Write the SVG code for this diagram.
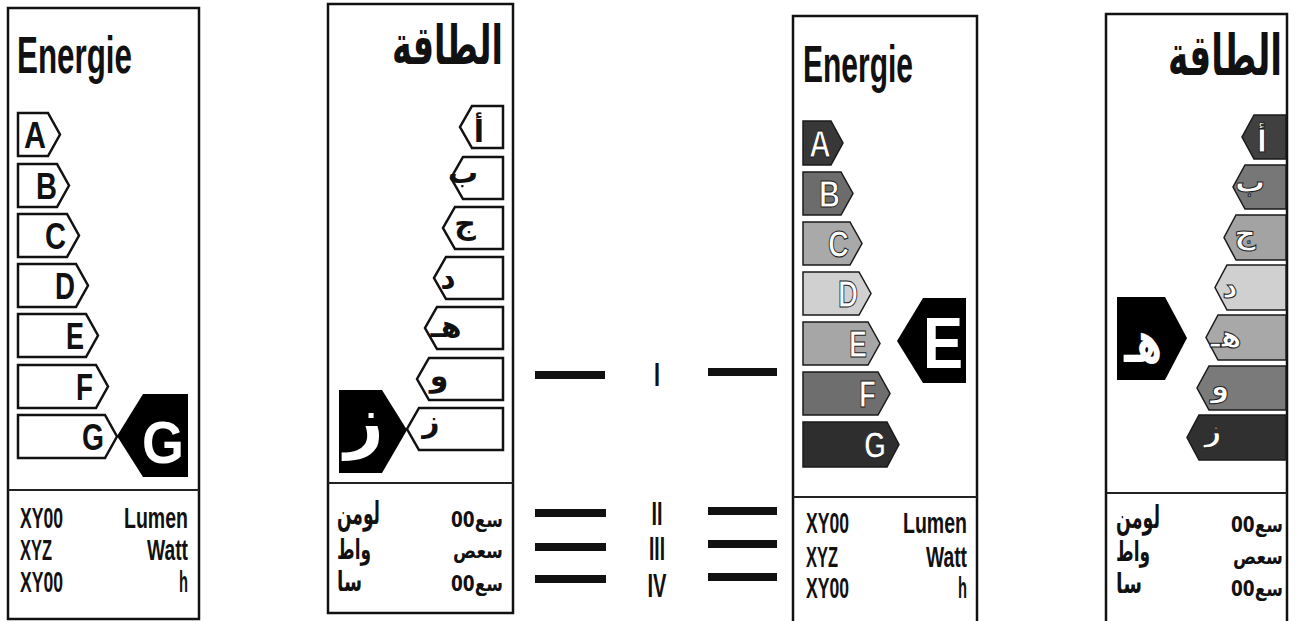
<svg xmlns="http://www.w3.org/2000/svg" width="1298" height="621" viewBox="0 0 1298 621">
<style>
.box{fill:#fff;stroke:#111;stroke-width:2.5}
.div{stroke:#222;stroke-width:2}
.ar{fill:#fff;stroke:#111;stroke-width:2.5;stroke-linejoin:miter}
.arc{stroke:#1a1a1a;stroke-width:1.5}
.ind{fill:#000}
.lat{font-family:"Liberation Sans",Arial,sans-serif;font-weight:bold;fill:#111}
.ara{font-family:"DejaVu Sans",sans-serif;font-weight:bold;fill:#111}
.big{font-size:52px}
.let{font-size:36px}
.wl{fill:#fff;stroke:#222;stroke-width:1}
.wi{fill:#fff}
.bot{font-size:30px}
.bar{fill:#111}
.rom{font-family:"Liberation Sans",Arial,sans-serif;font-weight:bold;fill:#111;font-size:33px}
</style>
<rect width="1298" height="621" fill="#fff"/>

<g id="label1">
<rect class="box" x="8" y="8" width="191" height="611"/>
<line class="div" x1="8" y1="490" x2="199" y2="490"/>
<text class="lat big" x="17" y="73" textLength="115" lengthAdjust="spacingAndGlyphs">Energie</text>
<path class="ar" d="M18,113H48L60,134.5L48,156H18Z"/>
<path class="ar" d="M18,164H57L69,185.5L57,207H18Z"/>
<path class="ar" d="M18,214H67L79,235.5L67,257H18Z"/>
<path class="ar" d="M18,264H76L88,285.5L76,307H18Z"/>
<path class="ar" d="M18,314H86L98,335.5L86,357H18Z"/>
<path class="ar" d="M18,365H96L108,386.5L96,408H18Z"/>
<path class="ar" d="M18,415H105L117,436.5L105,458H18Z"/>
<g class="lat let" text-anchor="end">
<text x="46" y="148" textLength="22" lengthAdjust="spacingAndGlyphs">A</text>
<text x="57" y="199" textLength="21" lengthAdjust="spacingAndGlyphs">B</text>
<text x="66" y="249" textLength="21" lengthAdjust="spacingAndGlyphs">C</text>
<text x="75" y="299" textLength="20" lengthAdjust="spacingAndGlyphs">D</text>
<text x="84" y="349" textLength="18" lengthAdjust="spacingAndGlyphs">E</text>
<text x="93" y="400" textLength="17" lengthAdjust="spacingAndGlyphs">F</text>
<text x="104" y="450" textLength="22" lengthAdjust="spacingAndGlyphs">G</text>
</g>
<path class="ind" d="M117,436L143,394H188V477H143Z"/>
<text class="lat wi" x="142" y="463" font-size="60" textLength="42" lengthAdjust="spacingAndGlyphs">G</text>
<g class="lat bot">
<text x="20" y="528" textLength="43" lengthAdjust="spacingAndGlyphs">XY00</text>
<text x="20" y="560" textLength="32" lengthAdjust="spacingAndGlyphs">XYZ</text>
<text x="20" y="592" textLength="43" lengthAdjust="spacingAndGlyphs">XY00</text>
<text x="124" y="528" textLength="64" lengthAdjust="spacingAndGlyphs">Lumen</text>
<text x="147" y="560" textLength="41" lengthAdjust="spacingAndGlyphs">Watt</text>
<text x="179" y="592" textLength="9" lengthAdjust="spacingAndGlyphs">h</text>
</g>
</g>

<g id="label2">
<rect class="box" x="328" y="4" width="185" height="609"/>
<line class="div" x1="328" y1="483" x2="513" y2="483"/>
<text class="ara" x="392" y="64" font-size="54" textLength="111" lengthAdjust="spacingAndGlyphs">الطاقة</text>
<path class="ar" d="M503,106V148H472L460,127L472,106Z"/>
<path class="ar" d="M503,157V199H463L451,178L463,157Z"/>
<path class="ar" d="M503,207V249H455L443,228L455,207Z"/>
<path class="ar" d="M503,257V299H446L434,278L446,257Z"/>
<path class="ar" d="M503,307V349H437L425,328L437,307Z"/>
<path class="ar" d="M503,358V400H429L417,379L429,358Z"/>
<path class="ar" d="M503,408V450H419L407,429L419,408Z"/>
<g class="ara" font-size="30" text-anchor="middle">
<text x="479" y="142">أ</text>
<text x="463" y="183">ب</text>
<text x="465" y="234">ج</text>
<text x="448" y="288">د</text>
<text x="446" y="337">هـ</text>
<text x="439" y="386">و</text>
<text x="431" y="432">ز</text>
</g>
<path class="ind" d="M339,390H382L407,430L382,473H339Z"/>
<text class="ara wi" x="364" y="444" font-size="68" text-anchor="middle">ز</text>
<g class="ara">
<text x="337" y="524" font-size="31" textLength="43" lengthAdjust="spacingAndGlyphs">لومن</text>
<text x="337" y="559" font-size="28" textLength="34" lengthAdjust="spacingAndGlyphs">واط</text>
<text x="337" y="591" font-size="28" textLength="25" lengthAdjust="spacingAndGlyphs">سا</text>
<text x="503" y="527" font-size="21" text-anchor="end" textLength="52" lengthAdjust="spacingAndGlyphs">سع00</text>
<text x="503" y="558" font-size="21" text-anchor="end" textLength="50" lengthAdjust="spacingAndGlyphs">سعص</text>
<text x="503" y="591" font-size="21" text-anchor="end" textLength="52" lengthAdjust="spacingAndGlyphs">سع00</text>
</g>
</g>

<g id="connectors">
<rect class="bar" x="535" y="371" width="70" height="8"/>
<rect class="bar" x="708" y="368" width="69" height="8"/>
<rect class="bar" x="535" y="509" width="71" height="8"/>
<rect class="bar" x="708" y="507" width="69" height="8"/>
<rect class="bar" x="535" y="543" width="71" height="8"/>
<rect class="bar" x="708" y="540" width="69" height="8"/>
<rect class="bar" x="535" y="575" width="71" height="8"/>
<rect class="bar" x="708" y="573" width="69" height="8"/>
</g>

<g id="numerals" text-anchor="middle">
<text class="rom" x="657" y="386" textLength="6" lengthAdjust="spacingAndGlyphs">I</text>
<text class="rom" x="657" y="525" textLength="11" lengthAdjust="spacingAndGlyphs">II</text>
<text class="rom" x="657" y="560" textLength="16" lengthAdjust="spacingAndGlyphs">III</text>
<text class="rom" x="657" y="597" textLength="19" lengthAdjust="spacingAndGlyphs">IV</text>
</g>

<g id="label3">
<rect class="box" x="793" y="16" width="184" height="620"/>
<line class="div" x1="793" y1="497" x2="977" y2="497"/>
<text class="lat big" x="803" y="82" textLength="110" lengthAdjust="spacingAndGlyphs">Energie</text>
<path class="arc" fill="#383838" d="M803,121H831L843,143L831,165H803Z"/>
<path class="arc" fill="#6c6c6c" d="M803,172H841L853,193.5L841,215H803Z"/>
<path class="arc" fill="#a9a9a9" d="M803,222H850L862,243.5L850,265H803Z"/>
<path class="arc" fill="#d0d0d0" d="M803,272H859L871,293.5L859,315H803Z"/>
<path class="arc" fill="#a6a6a6" d="M803,322H868L880,343.5L868,365H803Z"/>
<path class="arc" fill="#6e6e6e" d="M803,372H878L890,393.5L878,415H803Z"/>
<path class="arc" fill="#2e2e2e" d="M803,422H887L899,444.5L887,467H803Z"/>
<g class="lat let" text-anchor="end">
<text class="wl" x="831" y="157" textLength="22" lengthAdjust="spacingAndGlyphs">A</text>
<text class="wl" x="840" y="207" textLength="21" lengthAdjust="spacingAndGlyphs">B</text>
<text class="wl" x="849" y="257" textLength="21" lengthAdjust="spacingAndGlyphs">C</text>
<text class="wl" x="858" y="307" textLength="20" lengthAdjust="spacingAndGlyphs">D</text>
<text class="wl" x="867" y="357" textLength="18" lengthAdjust="spacingAndGlyphs">E</text>
<text class="wl" x="876" y="407" textLength="17" lengthAdjust="spacingAndGlyphs">F</text>
<text class="wl" x="886" y="458" textLength="22" lengthAdjust="spacingAndGlyphs">G</text>
</g>
<path class="ind" d="M897,341L923,298H966V383H923Z"/>
<text class="lat wi" x="923" y="368" font-size="72" textLength="40" lengthAdjust="spacingAndGlyphs">E</text>
<g class="lat bot">
<text x="806" y="533" textLength="43" lengthAdjust="spacingAndGlyphs">XY00</text>
<text x="806" y="567" textLength="32" lengthAdjust="spacingAndGlyphs">XYZ</text>
<text x="806" y="598" textLength="43" lengthAdjust="spacingAndGlyphs">XY00</text>
<text x="903" y="533" textLength="64" lengthAdjust="spacingAndGlyphs">Lumen</text>
<text x="926" y="567" textLength="41" lengthAdjust="spacingAndGlyphs">Watt</text>
<text x="958" y="598" textLength="9" lengthAdjust="spacingAndGlyphs">h</text>
</g>
</g>

<g id="label4">
<rect class="box" x="1106" y="14" width="181" height="620"/>
<line class="div" x1="1106" y1="493" x2="1287" y2="493"/>
<text class="ara" x="1282" y="75" font-size="56" text-anchor="end" textLength="114" lengthAdjust="spacingAndGlyphs">الطاقة</text>
<path class="arc" fill="#404040" d="M1286,115V159H1254L1242,137L1254,115Z"/>
<path class="arc" fill="#777" d="M1286,165V209H1245L1233,187L1245,165Z"/>
<path class="arc" fill="#a3a3a3" d="M1286,215V260H1236L1224,237.5L1236,215Z"/>
<path class="arc" fill="#d0d0d0" d="M1286,265V310H1227L1215,287.5L1227,265Z"/>
<path class="arc" fill="#a8a8a8" d="M1286,315V360H1218L1206,337.5L1218,315Z"/>
<path class="arc" fill="#7a7a7a" d="M1286,366V410H1209L1197,388L1209,366Z"/>
<path class="arc" fill="#303030" d="M1286,415V460H1199L1187,437.5L1199,415Z"/>
<g class="ara" font-size="30" text-anchor="middle">
<text class="wl" x="1262" y="152">أ</text>
<text class="wl" x="1250" y="192">ب</text>
<text class="wl" x="1245" y="244">ج</text>
<text class="wl" x="1230" y="297">د</text>
<text class="wl" x="1226" y="347">هـ</text>
<text class="wl" x="1220" y="396">و</text>
<text class="wl" x="1213" y="441">ز</text>
</g>
<path class="ind" d="M1117,297H1165L1187,338L1165,380H1117Z"/>
<text class="ara wi" x="1124" y="362" font-size="58" textLength="38" lengthAdjust="spacingAndGlyphs">هـ</text>
<g class="ara">
<text x="1116" y="528" font-size="31" textLength="44" lengthAdjust="spacingAndGlyphs">لومن</text>
<text x="1116" y="561" font-size="28" textLength="34" lengthAdjust="spacingAndGlyphs">واط</text>
<text x="1116" y="593" font-size="28" textLength="26" lengthAdjust="spacingAndGlyphs">سا</text>
<text x="1283" y="532" font-size="21" text-anchor="end" textLength="52" lengthAdjust="spacingAndGlyphs">سع00</text>
<text x="1283" y="564" font-size="21" text-anchor="end" textLength="50" lengthAdjust="spacingAndGlyphs">سعص</text>
<text x="1283" y="596" font-size="21" text-anchor="end" textLength="52" lengthAdjust="spacingAndGlyphs">سع00</text>
</g>
</g>
</svg>
